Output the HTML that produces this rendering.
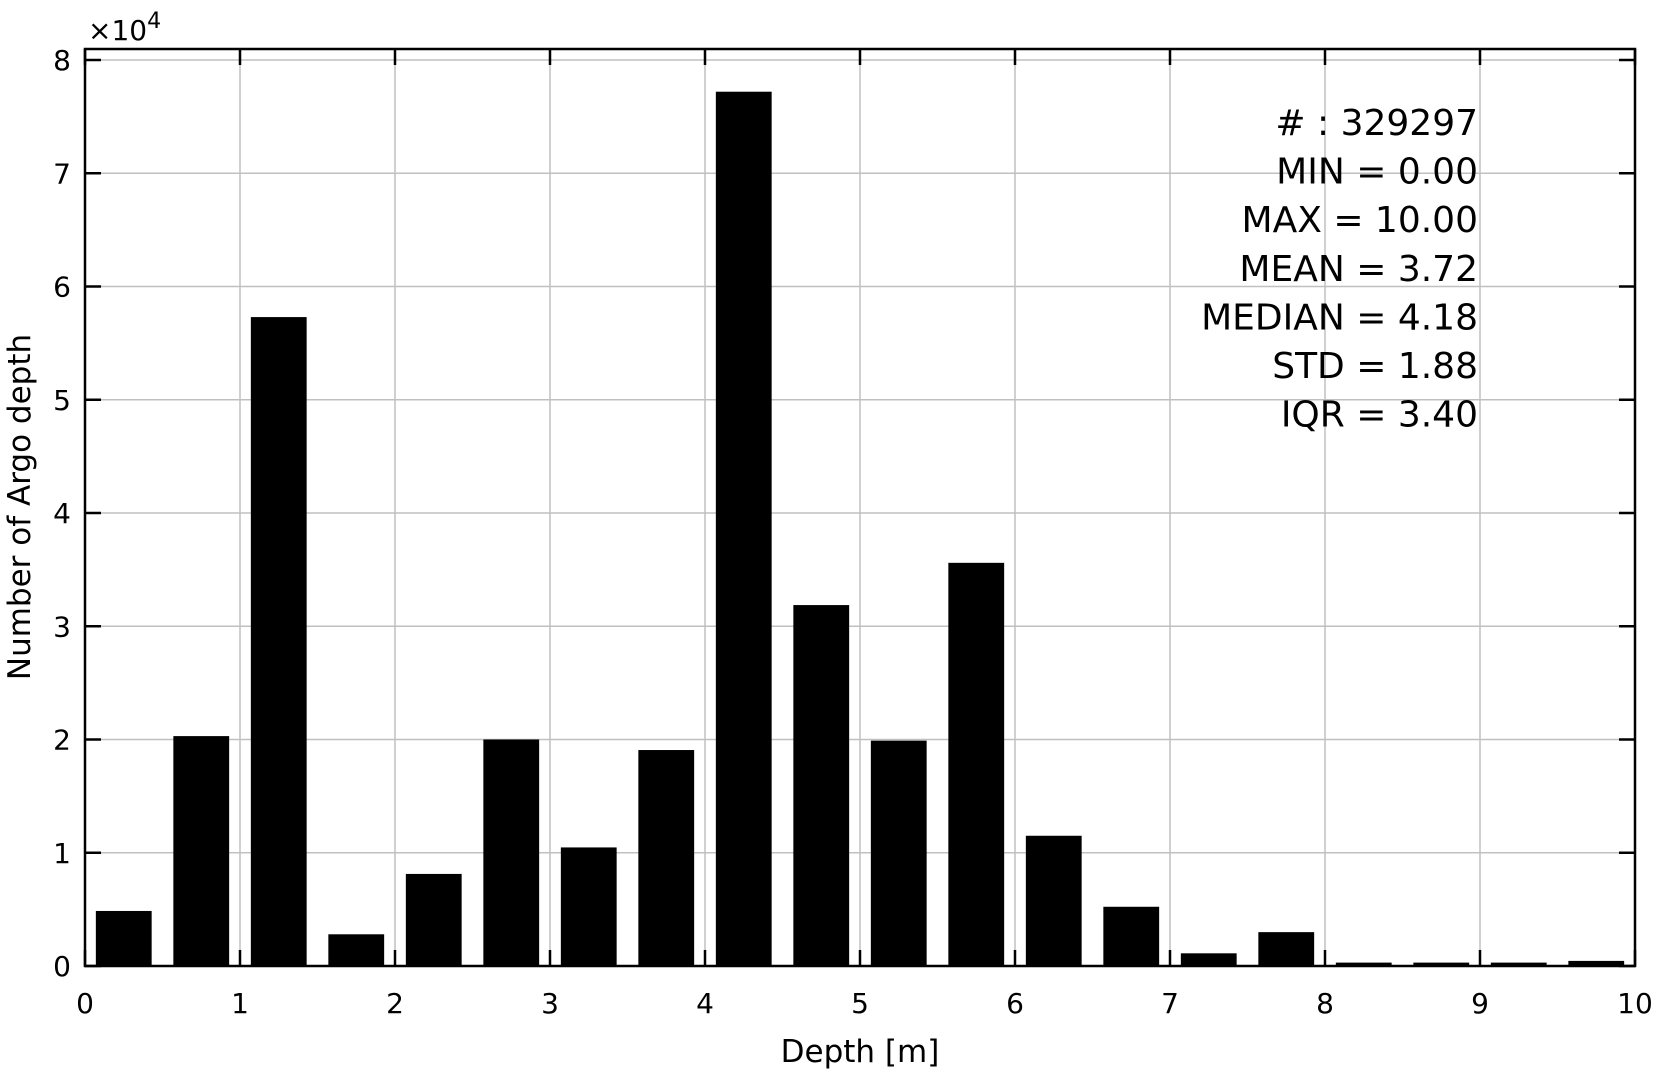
<!DOCTYPE html>
<html><head><meta charset="utf-8"><style>
html,body{margin:0;padding:0;background:#fff;}
svg{display:block;font-family:"DejaVu Sans","Liberation Sans",sans-serif;}
</style></head><body>
<svg id="chart" width="1657" height="1073" viewBox="0 0 1657 1073" xmlns="http://www.w3.org/2000/svg"></svg>
<script>
const binStarts=[0,0.5,1,1.5,2,2.5,3,3.5,4,4.5,5,5.5,6,6.5,7,7.5,8,8.5,9,9.5];
const counts=[4860,20300,57300,2800,8130,20000,10470,19070,77200,31870,19900,35600,11500,5230,1120,2990,300,300,300,450];
const xTicks=[0,1,2,3,4,5,6,7,8,9,10];
const yTicks=[0,1,2,3,4,5,6,7,8];
const statsLines=["# : 329297","MIN = 0.00","MAX =  10.00","MEAN = 3.72","MEDIAN = 4.18","STD = 1.88","IQR = 3.40"];

const L=85,R=1635,T=49,B=966;
const xS=v=>L+(v-0)*(R-L)/10;
const yS=v=>B-v*(906/80000);
const svg=document.getElementById('chart');
const NS='http://www.w3.org/2000/svg';
function mk(tag,attrs,parent){const e=document.createElementNS(NS,tag);for(const k in attrs)e.setAttribute(k,attrs[k]);(parent||svg).appendChild(e);return e;}

const grid=mk('g',{});


xTicks.forEach(t=>{const l=mk('line',{x1:xS(t),x2:xS(t),y1:T,y2:B,stroke:'#c0c0c0','stroke-width':1.5},grid);

});
yTicks.forEach(t=>{const l=mk('line',{x1:L,x2:R,y1:yS(t*1e4),y2:yS(t*1e4),stroke:'#c0c0c0','stroke-width':1.5},grid);

});

const bars=mk('g',{});


binStarts.forEach((s,i)=>{const x0=xS(s+0.07),x1=xS(s+0.43);
const r=mk('rect',{x:x0,y:yS(counts[i]),width:x1-x0,height:B-yS(counts[i]),fill:'#000'},bars);

});

const ax=mk('rect',{x:L,y:T,width:R-L,height:B-T,fill:'none',stroke:'#000','stroke-width':2.5});



const tk=mk('g',{stroke:'#000','stroke-width':2.5});


xTicks.forEach(t=>{mk('line',{x1:xS(t),x2:xS(t),y1:B,y2:B-16},tk);mk('line',{x1:xS(t),x2:xS(t),y1:T,y2:T+16},tk);
const tx=mk('text',{x:xS(t),y:1013,'font-size':28,'text-anchor':'middle',fill:'#000',stroke:'none'});tx.textContent=t;

});
yTicks.forEach(t=>{const y=yS(t*1e4);mk('line',{x1:L,x2:L+16,y1:y,y2:y},tk);mk('line',{x1:R,x2:R-16,y1:y,y2:y},tk);
const tx=mk('text',{x:L-14,y:y+10,'font-size':28,'text-anchor':'end',fill:'#000',stroke:'none'});tx.textContent=t;

});

const mult=mk('text',{x:88,y:40,'font-size':28,fill:'#000'});
mult.innerHTML='×10<tspan dy="-12" font-size="22">4</tspan>';



const xl=mk('text',{x:860,y:1062,'font-size':31,'text-anchor':'middle',fill:'#000'});xl.textContent='Depth [m]';


const yl=mk('text',{x:0,y:0,'font-size':31,'text-anchor':'middle',fill:'#000',transform:'translate(30,507) rotate(-90)'});yl.textContent='Number of Argo depth';



const st=mk('g',{});


statsLines.forEach((s,i)=>{const t=mk('text',{x:1478,y:135+i*48.6,'font-size':36,'text-anchor':'end',fill:'#000','xml:space':'preserve'},st);t.textContent=s;

});
</script>
</body></html>
